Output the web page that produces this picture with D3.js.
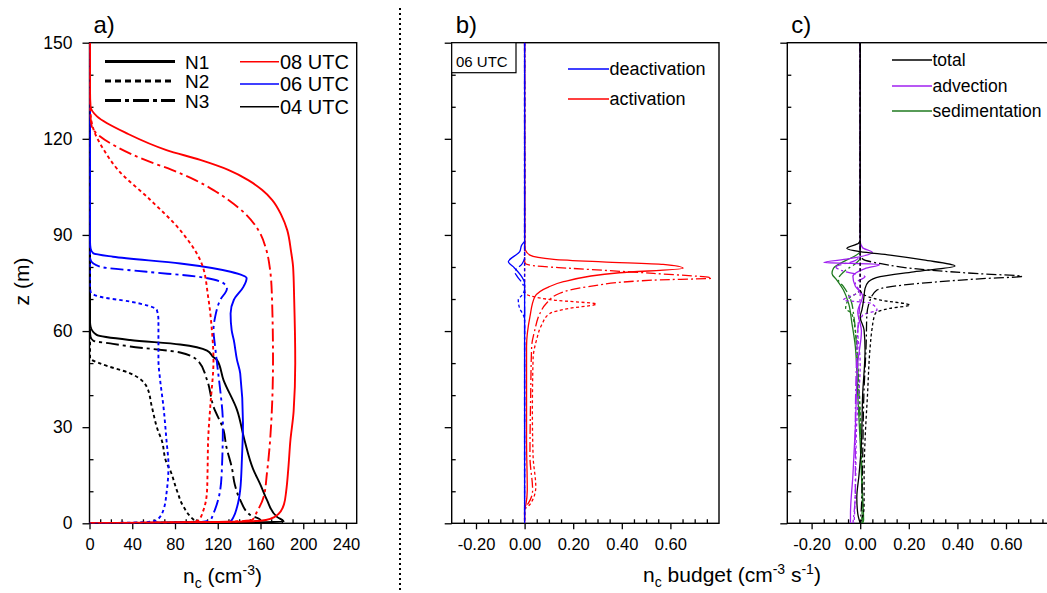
<!DOCTYPE html>
<meta charset="utf-8">
<style>

html,
body {
  margin: 0;
  overflow: hidden;
  background: #fff;
}

text {
  font-family: "Liberation Sans", Arial, sans-serif;
  fill: #000;
}

.frame {
  fill: none;
  stroke: #000;
  stroke-width: 1.4;
}

.axis path {
  display: none;
}

.axis line {
  stroke: #000;
  stroke-width: 1.3;
}

.prof {
  fill: none;
}

</style>
<body>
<script src="https://d3js.org/d3.v7.min.js"></script>
<script>

var width = 1047,
  height = 593,
  top0 = 42.7,
  bottom0 = 523.3;

// axis ticks
var zTicks = [0, 30, 60, 90, 120, 150];
var ncTicks = [0, 40, 80, 120, 160, 200, 240];
var budgetTicks = [-0.2, 0, 0.2, 0.4, 0.6];

// legend texts
var timeLabels = ["08 UTC", "06 UTC", "04 UTC"];
var caseLabels = ["N1", "N2", "N3"];
var bLabels = ["deactivation", "activation"];
var cLabels = ["total", "advection", "sedimentation"];

// a) n_c profiles, [n_c, z]
var a08N1 = [[0.5,150],[0.5,135],[1,130],[7,127],[35,121.7],[72,116.5],[103.6,113.4],[129.8,110.3],[148.5,107.1],[161.6,104],[171,100.9],[179.5,96.2],[185,91.5],[188.5,85],[190.5,80],[191.5,70],[192.5,50],[191,35],[188,26],[186,17],[184,10],[182,6],[177,3],[170,1.5],[160,0.8],[120,0.4],[0,0]];
var a08N2 = [[0.3,150],[0.5,130],[1,127.4],[4,122.7],[13.5,116.5],[26.7,110.3],[56.7,101],[84.8,91.5],[105,81],[111,70.7],[114.5,60.3],[116,51],[113,36.4],[111,26],[110.5,17],[110,10.4],[106.7,4.2],[102,1],[95,0.4],[0,0]];
var a08N3 = [[0.3,150],[0.5,130],[2,124],[10,120.7],[25.5,117.5],[52,113.4],[77,110.3],[99,107.1],[116,104],[130,100.9],[147,96.2],[158,91.5],[165.5,85.3],[169,79],[170.7,70.7],[171.7,51],[169,26],[166,15.6],[163,8.3],[156.7,3.6],[152,1],[120,0.4],[0,0]];
var a06N1 = [[0.5,150],[0.5,88],[1,85.8],[3.5,84.3],[22,83.2],[85,81.1],[132,78.5],[147,76.5],[144,73.8],[135,69.7],[132,65.5],[133,60.3],[135,57.2],[138,51],[141,46.8],[143.6,31.2],[142.6,20],[141,10.4],[138,5],[134.8,2],[131.7,0.5],[0,0]];
var a06N2 = [[0.5,150],[0.5,74],[1,72.3],[9.8,70.7],[38,69.2],[63,66.6],[64.5,63.4],[64.5,51],[66,45],[69.2,36.4],[72,26],[73.9,18],[72.4,10.4],[69.2,4.2],[63,1],[55,0.4],[0,0]];
var a06N3 = [[0.5,150],[0.5,84],[1,82.2],[9.8,80.1],[53.6,78.5],[100.5,77],[125.4,74.9],[128.6,73.3],[122.3,69.7],[117.6,64.5],[116,60.3],[117.6,55],[120,48],[122.3,41.6],[124.8,31.2],[123.9,17.2],[122.3,10.4],[116,3.1],[113,1],[105,0.4],[0,0]];
var a04N1 = [[0.5,150],[0.5,63],[1,61.4],[6.7,58.8],[38,57.2],[84.8,55.8],[110,53.9],[116,51.8],[119.2,51],[125.4,44.7],[138,35.4],[145,26],[153,17],[160,12],[166,7.3],[175.4,2],[181.6,0.5],[150,0.3],[0,0]];
var a04N2 = [[0.5,150],[0.5,53],[0.5,51.5],[9.8,49.9],[38,46.8],[53.6,42.6],[58.3,36.4],[64,29],[67.5,26],[72,19],[75.4,16.6],[82,10],[87.9,5.2],[97.3,1.2],[100,0.5],[0,0]];
var a04N3 = [[0.5,150],[0.5,60],[1,58.2],[3.6,57],[22,56],[38,55.2],[84.8,53.3],[102,50.5],[110,44.7],[116,36.4],[125.4,29.1],[128,24],[133.3,17.2],[136,12],[141,7.3],[150.4,2.6],[160,1],[150,0.4],[0,0]];

// b) 06 UTC activation / deactivation, [rate, z]
var bDeN1 = [[0,150],[0,88],[-0.005,87.5],[-0.012,86.8],[-0.02,84.8],[-0.067,81.6],[-0.047,80.1],[-0.012,77],[0,75],[0,0]];
var bDeN2 = [[0,150],[0,73],[-0.01,71.3],[-0.026,69.7],[-0.02,67],[-0.005,65],[0,63],[0,0]];
var bDeN3 = [[0,150],[0,83],[-0.01,81],[-0.04,78.5],[-0.03,77],[-0.01,75],[0,73],[0,0]];
var bAcN1 = [[0,150],[0.001,86],[0.003,85.3],[0.022,83.7],[0.12,82.4],[0.32,81.6],[0.57,80.8],[0.652,79.6],[0.39,78.2],[0.16,75.4],[0.10,73.8],[0.042,70.7],[0.022,64.5],[0.008,55.1],[0.008,26],[0.011,10.4],[0.005,5.7],[0,4.5],[0,0]];
var bAcN2 = [[0,150],[0,73],[0.003,71.8],[0.118,69.7],[0.296,68.4],[0.186,67.1],[0.104,65.5],[0.07,61.9],[0.049,57.2],[0.035,51.5],[0.032,35],[0.035,20.8],[0.046,11.4],[0.029,6.7],[0.01,5],[0,4.5],[0,0]];
var bAcN3 = [[0,150],[0,82],[0.003,81.1],[0.049,80.3],[0.186,79.6],[0.53,78],[0.77,76.5],[0.53,75.9],[0.255,73.8],[0.145,71.8],[0.09,68.7],[0.063,65.5],[0.042,60.3],[0.029,55.1],[0.025,40],[0.022,20.8],[0.033,10.4],[0.015,6.2],[0,4.8],[0,0]];

// c) budget terms, [rate, z]
var cTotN1 = [[0,150],[0,88.5],[-0.007,87.4],[-0.055,85.8],[0,84.8],[0.123,83.7],[0.26,82.2],[0.39,80.3],[0.22,78.5],[0.082,77],[0.034,75.4],[0.02,73.3],[0.014,69.7],[0.007,66.6],[0,64.5],[0.016,60.3],[0.02,54.1],[0.01,40],[0.005,25],[-0.005,15],[-0.014,8],[-0.01,3],[0,0]];
var cTotN2 = [[0,150],[0,73],[0.005,72],[0.034,70.7],[0.08,69.7],[0.205,68.1],[0.123,67.1],[0.062,65.5],[0.048,60.3],[0.041,55.1],[0.03,40],[0.02,26],[0.016,15],[0.016,5],[0,0]];
var cTotN3 = [[0,150],[0,84],[0.01,82.5],[0.08,81.1],[0.287,79],[0.49,77.9],[0.666,77.1],[0.49,76.3],[0.247,74.9],[0.12,73.8],[0.069,72.8],[0.041,69.7],[0.027,64.5],[0.025,57.2],[0.015,40],[0.01,20],[0.005,5],[0,0]];
var cAdvN1 = [[0,150],[0,88],[0.01,86],[0.05,84.5],[-0.05,82.5],[-0.15,81.4],[0.08,80.8],[0.02,79.5],[-0.03,77],[-0.02,74],[0.01,71],[-0.01,66],[0.005,60],[-0.01,50],[-0.02,30],[-0.03,15],[-0.04,3],[-0.04,0]];
var cAdvN2 = [[0,150],[0,73],[-0.02,71.5],[-0.069,69.7],[0.041,68.7],[0.069,66.6],[0.01,65],[-0.01,60],[0,50],[-0.015,30],[-0.02,10],[-0.025,0]];
var cAdvN3 = [[0,150],[0,84],[-0.02,82],[-0.1,80],[-0.06,78.5],[0.02,77],[-0.02,75],[0,72],[-0.01,60],[-0.02,30],[-0.02,10],[-0.03,0]];
var cSedN1 = [[0,150],[0,85],[-0.02,83.5],[-0.055,82.2],[-0.11,79.6],[-0.116,78],[-0.096,75.9],[-0.069,72.8],[-0.048,68.7],[-0.034,62.4],[-0.02,55.1],[-0.01,40],[0,25],[0.008,10],[0.014,1],[0.01,0]];
var cSedN2 = [[0,150],[0,73],[-0.02,71.5],[-0.04,70.7],[-0.06,67],[-0.035,65.5],[-0.02,60],[-0.01,50],[0,35],[0.005,20],[0.008,5],[0.006,0]];
var cSedN3 = [[0,150],[0,83],[-0.02,81],[-0.06,79],[-0.09,76],[-0.07,74],[-0.04,70],[-0.025,64],[-0.015,55],[-0.005,40],[0.005,20],[0.01,5],[0.008,0]];

var red = "#ff0000", blue = "#0000ff", black = "#000000",
  purple = "#a020f0", green = "#1f7a1f";

var svg = d3.select("body")
  .append("svg")
  .attr("width", width)
  .attr("height", height);

var y = d3.scaleLinear().domain([0, 150]).range([bottom0, top0]);
var xa = d3.scaleLinear().domain([0, 250]).range([89.5, 356.7]);
var xb = d3.scaleLinear().domain([-0.3, 0.8]).range([451.7, 719]);
var xc = d3.scaleLinear().domain([-0.3, 0.8]).range([787.3, 1054.6]);

var fmt2 = function(v) { return v.toFixed(2); };

function panel(id, x, opts) {
  var g = svg.append("g");
  var r = x.range();

  svg.append("clipPath").attr("id", "clip" + id)
    .append("rect")
    .attr("x", r[0]).attr("y", top0)
    .attr("width", r[1] - r[0]).attr("height", bottom0 - top0);

  // minor ticks (inward)
  var d = x.domain();
  var minorX = opts.minorX.filter(function(v) { return v > d[0] + 1e-9 && v < d[1] - 1e-9; });
  g.append("g").attr("class", "axis")
    .attr("transform", "translate(0," + bottom0 + ")")
    .call(d3.axisBottom(x).tickValues(minorX).tickSize(-4).tickFormat(""));
  var minorZ = [10, 20, 40, 50, 70, 80, 100, 110, 130, 140];
  g.append("g").attr("class", "axis")
    .attr("transform", "translate(" + r[0] + ",0)")
    .call(d3.axisLeft(y).tickValues(minorZ).tickSize(-4).tickFormat(""));

  // major ticks (outward)
  var ax = g.append("g").attr("class", "axis")
    .attr("transform", "translate(0," + bottom0 + ")")
    .call(d3.axisBottom(x).tickValues(opts.majorX).tickSize(6).tickPadding(9)
      .tickFormat(opts.fmtX));
  ax.selectAll("text").attr("font-size", 16.5);

  var ay = g.append("g").attr("class", "axis")
    .attr("transform", "translate(" + r[0] + ",0)")
    .call(d3.axisLeft(y).tickValues(zTicks).tickSize(7).tickPadding(10)
      .tickFormat(opts.yLabels ? d3.format("d") : ""));
  ay.selectAll("text").attr("font-size", 17.5);

  g.append("rect").attr("class", "frame")
    .attr("x", r[0]).attr("y", top0)
    .attr("width", r[1] - r[0]).attr("height", bottom0 - top0);

  g.append("text")
    .attr("x", r[0] + 4).attr("y", 33)
    .attr("font-size", 24)
    .text(opts.title);

  return svg.append("g").attr("clip-path", "url(#clip" + id + ")");
}

function draw(plot, x, series, lw, dashes) {
  var line = d3.line()
    .x(function(d) { return x(d[0]); })
    .y(function(d) { return y(d[1]); })
    .curve(d3.curveMonotoneY);
  plot.selectAll(null)
    .data(series)
    .enter().append("path")
    .attr("class", "prof")
    .attr("d", function(s) { return line(s.data); })
    .attr("stroke", function(s) { return s.color; })
    .attr("stroke-width", lw)
    .attr("stroke-dasharray", function(s) { return dashes[s.style]; });
}

var minorA = d3.range(0, 251, 10).filter(function(v) { return v % 40 !== 0; });
var minorB = d3.range(-6, 17).filter(function(i) { return i % 4 !== 0; })
  .map(function(i) { return i * 0.05; });

var dashA = { solid: null, dash: "3.5,3", dashdot: "13,4,3,4" };
var dashB = { solid: null, dash: "3,2.5", dashdot: "10,3,2,3" };

// panel a
var pa = panel("a", xa, { majorX: ncTicks, minorX: minorA, fmtX: d3.format("d"), yLabels: true, title: "a)" });
draw(pa, xa, [
  { data: a04N1, color: black, style: "solid" },
  { data: a04N2, color: black, style: "dash" },
  { data: a04N3, color: black, style: "dashdot" },
  { data: a06N1, color: blue, style: "solid" },
  { data: a06N2, color: blue, style: "dash" },
  { data: a06N3, color: blue, style: "dashdot" },
  { data: a08N1, color: red, style: "solid" },
  { data: a08N2, color: red, style: "dash" },
  { data: a08N3, color: red, style: "dashdot" }
], 1.9, dashA);

// panel b
var pb = panel("b", xb, { majorX: budgetTicks, minorX: minorB, fmtX: fmt2, yLabels: false, title: "b)" });
draw(pb, xb, [
  { data: bAcN1, color: red, style: "solid" },
  { data: bAcN2, color: red, style: "dash" },
  { data: bAcN3, color: red, style: "dashdot" },
  { data: bDeN1, color: blue, style: "solid" },
  { data: bDeN2, color: blue, style: "dash" },
  { data: bDeN3, color: blue, style: "dashdot" }
], 1.3, dashB);

// panel c
var pc = panel("c", xc, { majorX: budgetTicks, minorX: minorB, fmtX: fmt2, yLabels: false, title: "c)" });
draw(pc, xc, [
  { data: cSedN1, color: green, style: "solid" },
  { data: cSedN2, color: green, style: "dash" },
  { data: cSedN3, color: green, style: "dashdot" },
  { data: cAdvN1, color: purple, style: "solid" },
  { data: cAdvN2, color: purple, style: "dash" },
  { data: cAdvN3, color: purple, style: "dashdot" },
  { data: cTotN1, color: black, style: "solid" },
  { data: cTotN2, color: black, style: "dash" },
  { data: cTotN3, color: black, style: "dashdot" }
], 1.3, dashB);

// legend a
var legA = svg.append("g");
var caseY = [61.5, 81, 100.5];
caseLabels.forEach(function(t, i) {
  legA.append("line")
    .attr("x1", 105).attr("x2", 175).attr("y1", caseY[i]).attr("y2", caseY[i])
    .attr("stroke", black).attr("stroke-width", 2.8)
    .attr("stroke-dasharray", [null, "6,4", "16,4,4,4"][i]);
  legA.append("text")
    .attr("x", 185).attr("y", caseY[i] + 7).attr("font-size", 19).text(t);
});
var timeY = [61.7, 84, 106.7];
var timeCol = [red, blue, black];
timeLabels.forEach(function(t, i) {
  legA.append("line")
    .attr("x1", 240).attr("x2", 279).attr("y1", timeY[i]).attr("y2", timeY[i])
    .attr("stroke", timeCol[i]).attr("stroke-width", 1.4);
  legA.append("text")
    .attr("x", 280).attr("y", timeY[i] + 7).attr("font-size", 20).text(t);
});

// legend b
var bY = [69, 99], bCol = [blue, red];
bLabels.forEach(function(t, i) {
  svg.append("line")
    .attr("x1", 568).attr("x2", 609).attr("y1", bY[i]).attr("y2", bY[i])
    .attr("stroke", bCol[i]).attr("stroke-width", 1.4);
  svg.append("text")
    .attr("x", 609.5).attr("y", bY[i] + 6.3).attr("font-size", 18).text(t);
});
svg.append("rect")
  .attr("x", 451.7).attr("y", top0).attr("width", 64.3).attr("height", 30)
  .attr("fill", "#fff").attr("stroke", black).attr("stroke-width", 1.2);
svg.append("text")
  .attr("x", 456).attr("y", 66.5).attr("font-size", 15).text("06 UTC");

// legend c
var cY = [60, 86, 111], cCol = [black, purple, green];
cLabels.forEach(function(t, i) {
  svg.append("line")
    .attr("x1", 892).attr("x2", 932).attr("y1", cY[i]).attr("y2", cY[i])
    .attr("stroke", cCol[i]).attr("stroke-width", 1.4);
  svg.append("text")
    .attr("x", 932.5).attr("y", cY[i] + 6.2).attr("font-size", 17.5).text(t);
});

// axis titles
svg.append("text")
  .attr("transform", "translate(21.7,281.5) rotate(-90)")
  .attr("text-anchor", "middle").attr("dy", "0.35em")
  .attr("font-size", 21).text("z (m)");

var xt = svg.append("text")
  .attr("x", 222.5).attr("y", 583).attr("text-anchor", "middle").attr("font-size", 21);
xt.append("tspan").text("n");
xt.append("tspan").attr("font-size", 14).attr("dy", 5).text("c");
xt.append("tspan").attr("dy", -5).text(" (cm");
xt.append("tspan").attr("font-size", 14).attr("dy", -8).text("-3");
xt.append("tspan").attr("dy", 8).text(")");

var xt2 = svg.append("text")
  .attr("x", 732).attr("y", 582).attr("text-anchor", "middle").attr("font-size", 21);
xt2.append("tspan").text("n");
xt2.append("tspan").attr("font-size", 14).attr("dy", 5).text("c");
xt2.append("tspan").attr("dy", -5).text(" budget (cm");
xt2.append("tspan").attr("font-size", 14).attr("dy", -8).text("-3");
xt2.append("tspan").attr("dy", 8).text(" s");
xt2.append("tspan").attr("font-size", 14).attr("dy", -8).text("-1");
xt2.append("tspan").attr("dy", 8).text(")");

// dotted separator
svg.append("line")
  .attr("x1", 400).attr("x2", 400).attr("y1", 8).attr("y2", height)
  .attr("stroke", black).attr("stroke-width", 2)
  .attr("stroke-dasharray", "2,3");

</script>
